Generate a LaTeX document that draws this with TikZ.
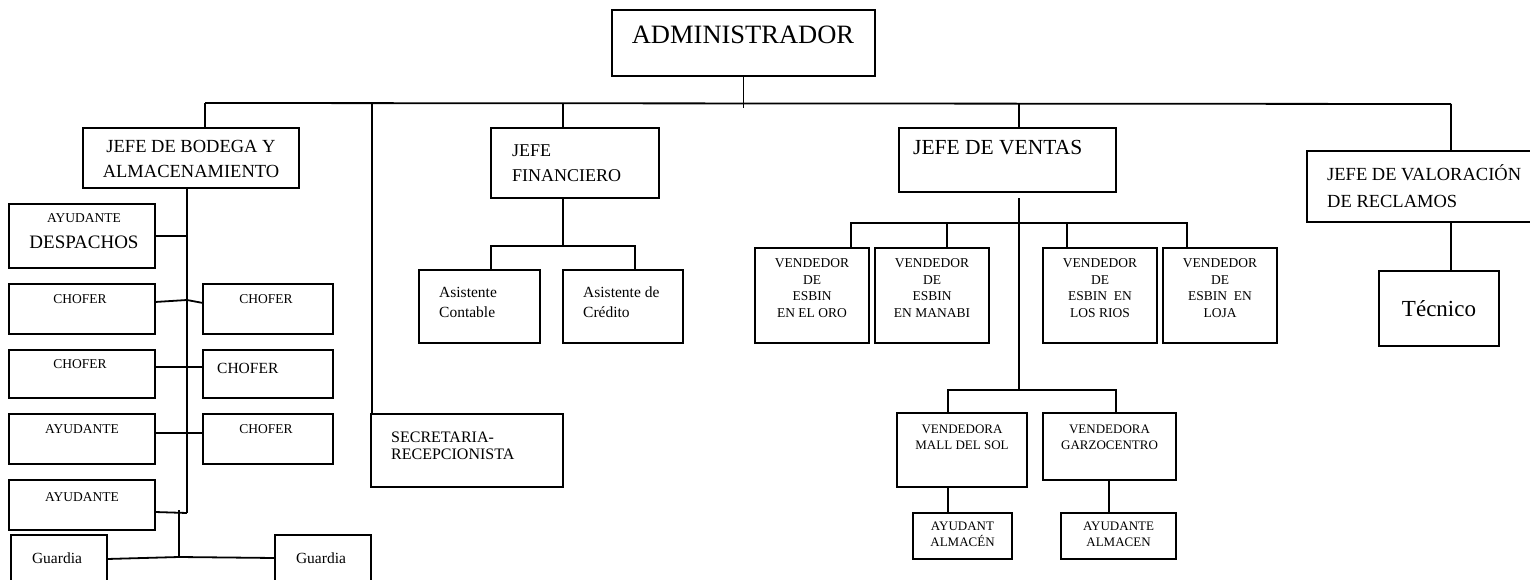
\documentclass[tikz,border=0pt]{standalone}
\usepackage{fontspec}
\setmainfont{Liberation Serif}
\newcommand\bx[5]{\node[box, minimum width=#4pt, minimum height=#5pt] (#1) at (#2,#3) {};}
\begin{document}
\begin{tikzpicture}[x=1pt,y=-1pt,
  box/.style={draw, line width=1.8pt, anchor=north west, inner sep=0pt, outer sep=0pt},
  ln/.style={line width=1.8pt},
  txt/.style={inner sep=0pt, align=center},
  ltxt/.style={inner sep=0pt, align=left, anchor=west},
  fA/.style={font=\fontsize{26.5}{30}\selectfont},
  fB/.style={font=\fontsize{18.5}{25}\selectfont},
  fC/.style={font=\fontsize{13.5}{16.5}\selectfont},
  fD/.style={font=\fontsize{15.5}{20}\selectfont},
  fE/.style={font=\fontsize{16}{17}\selectfont},
  fF/.style={font=\fontsize{13}{16}\selectfont},
]
\useasboundingbox (0,0) rectangle (1530,580);

% boxes
\bx{adm}{612}{10}{263}{66}
\bx{bod}{83}{128}{216}{60}
\bx{ayd}{9}{204}{146}{64}
\bx{ch1L}{9}{284}{146}{50}
\bx{ch1R}{203}{284}{130}{50}
\bx{ch2L}{9}{350}{146}{48}
\bx{ch2R}{203}{350}{130}{48}
\bx{ay3L}{9}{414}{146}{50}
\bx{ch3R}{203}{414}{130}{50}
\bx{ay4L}{9}{480}{146}{50}
\bx{guL}{11}{535}{96}{65}
\bx{guR}{275}{535}{96}{65}
\bx{sec}{371}{414}{192}{73}
\bx{fin}{491}{128}{168}{70}
\bx{asC}{419}{270}{121}{73}
\bx{asD}{563}{270}{120}{73}
\bx{ven}{899}{128}{217}{64}
\bx{v1}{755}{248}{114}{95}
\bx{v2}{875}{248}{114}{95}
\bx{v3}{1043}{248}{114}{95}
\bx{v4}{1163}{248}{114}{95}
\bx{vm}{897}{413}{130}{74}
\bx{vg}{1043}{413}{133}{67}
\bx{am}{913}{513}{99}{46}
\bx{ag}{1061}{513}{115}{46}
\bx{val}{1307}{151}{240}{71}
\bx{tec}{1379}{271}{120}{75}

% texts
\node[txt,fA] (admT) at (743,35) {ADMINISTRADOR};
\node[txt,fB] (bodT) at (191,158.5) {JEFE DE BODEGA Y\\ALMACENAMIENTO};
\node[txt,fC] (aydT1) at (84,218) {AYUDANTE};
\node[txt,font=\fontsize{19}{22}\selectfont] (aydT2) at (84,242) {DESPACHOS};
\node[txt,fC] (ch1LT) at (80,299) {CHOFER};
\node[txt,fC] (ch1RT) at (266,299) {CHOFER};
\node[txt,fC] (ch2LT) at (80,364) {CHOFER};
\node[ltxt,fD] (ch2RT) at (217,368) {CHOFER};
\node[txt,fC] (ay3LT) at (82,429) {AYUDANTE};
\node[txt,fC] (ch3RT) at (266,429) {CHOFER};
\node[txt,fC] (ay4LT) at (82,497) {AYUDANTE};
\node[txt,fD] (guLT) at (57,558) {Guardia};
\node[txt,fD] (guRT) at (321,558) {Guardia};
\node[ltxt,fE] (secT) at (391,445.5) {SECRETARIA-\\RECEPCIONISTA};
\node[ltxt,font=\fontsize{18}{25}\selectfont] (finT) at (512,163.5) {JEFE\\FINANCIERO};
\node[ltxt,fD] (asCT) at (439,302) {Asistente\\Contable};
\node[ltxt,fD] (asDT) at (583,302) {Asistente de\\Crédito};
\node[ltxt,font=\fontsize{21.5}{25}\selectfont] (venT) at (913,148) {JEFE DE VENTAS};
\node[txt,fC] (v1T) at (812,288) {VENDEDOR\\DE\\ESBIN\\EN EL ORO};
\node[txt,fC] (v2T) at (932,288) {VENDEDOR\\DE\\ESBIN\\EN MANABI};
\node[txt,fC] (v3T) at (1100,288) {VENDEDOR\\DE\\ESBIN\ \ EN\\LOS RIOS};
\node[txt,fC] (v4T) at (1220,288) {VENDEDOR\\DE\\ESBIN\ \ EN\\LOJA};
\node[txt,fF] (vmT) at (962,437) {VENDEDORA\\MALL DEL SOL};
\node[txt,fF] (vgT) at (1109.5,437) {VENDEDORA\\GARZOCENTRO};
\node[txt,fF] (amT) at (962.5,534.5) {AYUDANT\\ALMACÉN};
\node[txt,fF] (agT) at (1118.5,534.5) {AYUDANTE\\ALMACEN};
\node[ltxt,font=\fontsize{18.5}{27}\selectfont] (valT) at (1327,186.5) {JEFE DE VALORACIÓN\\DE RECLAMOS};
\node[txt,font=\fontsize{23}{26}\selectfont] (tecT) at (1439,308.5) {Técnico};

% main bus
\coordinate (busL) at (205,103);
\coordinate (busR) at (1451,104);
\coordinate (admEnd) at (743.5,108);
\coordinate (secTop) at (372,103);
\coordinate (finTop) at (563,103);
\coordinate (venTop) at (1019,103.5);
\draw[ln] (busL) -- (busR);
\draw[ln] (adm.south) -- (admEnd);
\draw[ln] (busL) -- (bod.north -| busL);
\draw[ln] (secTop) -- (sec.north west -| secTop);
\draw[ln] (finTop) -- (fin.north -| finTop);
\draw[ln] (venTop) -- (ven.north -| venTop);
\draw[ln] (busR) -- (val.north -| busR);

% bodega
\coordinate (bodTrunk) at (187,513);
\draw[ln] (bod.south -| bodTrunk) -- (bodTrunk);
\draw[ln] (ayd.east) -- (ayd.east -| bodTrunk);
\draw[ln] ([yshift=-18pt]ch1L.north east) -- ([yshift=-16pt]ch1L.north east -| bodTrunk) -- ([yshift=-19pt]ch1R.north west);
\draw[ln] ([yshift=-17pt]ch2L.north east) -- ([yshift=-17pt]ch2R.north west);
\draw[ln] ([yshift=-19pt]ay3L.north east) -- ([yshift=-19pt]ch3R.north west);
\draw[ln] ([yshift=-32pt]ay4L.north east) -- (bodTrunk);
\coordinate (guTop) at (179,510);
\coordinate (guMid) at (179,557);
\draw[ln] (guTop) -- (guMid);
\draw[ln] ([yshift=-24pt]guL.north east) -- (guMid) -- ([yshift=-23pt]guR.north west);

% financiero
\coordinate (finJ) at (563,246);
\draw[ln] (fin.south -| finJ) -- (finJ);
\draw[ln] ([xshift=72pt]asC.north west) |- (finJ) -| ([xshift=72pt]asD.north west);

% ventas
\coordinate (venBot) at (1019,198);
\coordinate (venJ) at (1019,390);
\coordinate (venH) at (1019,223);
\draw[ln] (venBot) -- (venJ);
\draw[ln] ([xshift=96pt]v1.north west) |- (venH) -| ([xshift=24pt]v4.north west);
\draw[ln] ([xshift=72pt]v2.north west) |- (venH);
\draw[ln] ([xshift=24pt]v3.north west) |- (venH);
\draw[ln] ([xshift=51pt]vm.north west) |- (venJ) -| ([xshift=73pt]vg.north west);
\draw[ln] ([xshift=51pt]vm.south west) -- ([xshift=35pt]am.north west);
\draw[ln] ([xshift=66pt]vg.south west) -- ([xshift=48pt]ag.north west);

% valoracion
\draw[ln] ([xshift=144pt]val.south west) -- ([xshift=72pt]tec.north west);
\end{tikzpicture}
\end{document}
